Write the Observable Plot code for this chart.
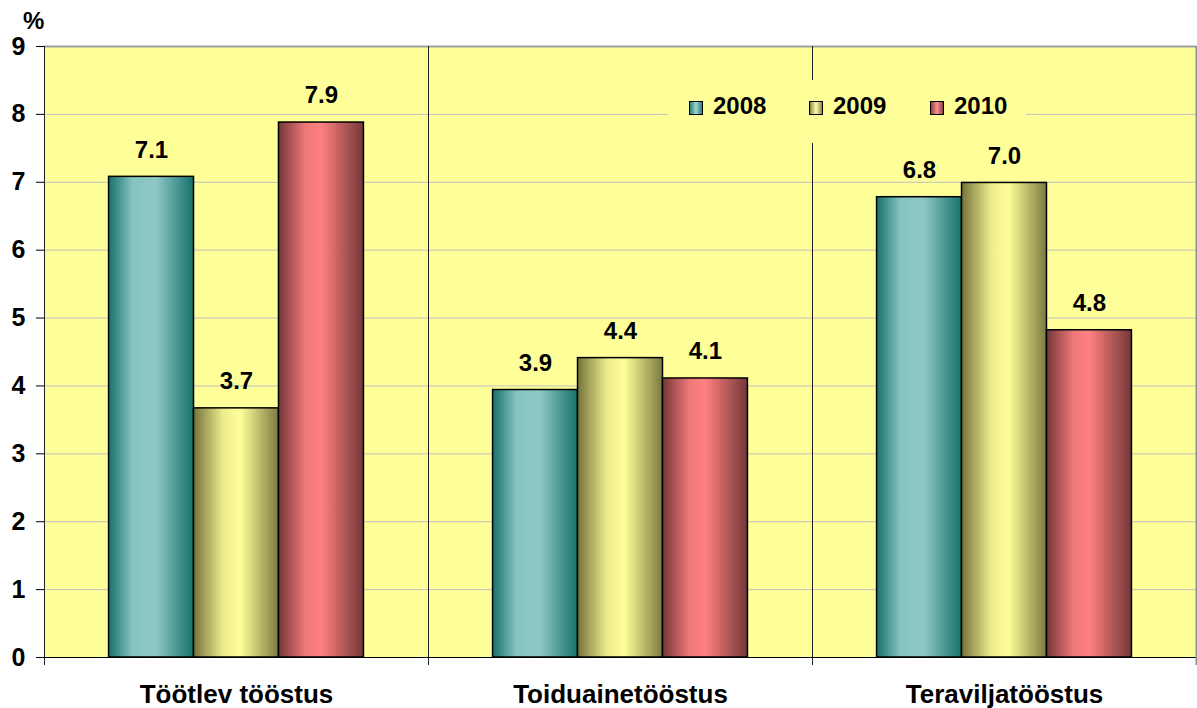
<!DOCTYPE html>
<html>
<head>
<meta charset="utf-8">
<script src="https://cdn.jsdelivr.net/npm/d3@7"></script>
<script src="https://cdn.jsdelivr.net/npm/@observablehq/plot@0.6"></script>
<style>
  html, body { margin: 0; padding: 0; background: white; }
  #wrap { position: relative; width: 1197px; height: 708px; font-family: 'Liberation Sans', Arial, sans-serif; font-weight: bold; }
  .abs { position: absolute; line-height: 1; font-size: 24px; color: black; }
  .sw { position: absolute; width: 12px; height: 12px; border: 1.5px solid black; }
  #chart g[aria-label^="fx-axis"] text { font-size: 26px !important; }
  #chart g[aria-label^="y-axis"] text { font-size: 25px !important; }
</style>
</head>
<body>
<svg width="0" height="0" style="position:absolute">
  <defs>
    <linearGradient id="g2008" x1="0" x2="1" y1="0" y2="0">
      <stop offset="0" stop-color="#16716d"/>
      <stop offset="0.28" stop-color="#86c3bf"/>
      <stop offset="0.55" stop-color="#8fc9c5"/>
      <stop offset="1" stop-color="#17716d"/>
    </linearGradient>
    <linearGradient id="g2009" x1="0" x2="1" y1="0" y2="0">
      <stop offset="0" stop-color="#74743c"/>
      <stop offset="0.35" stop-color="#eded8e"/>
      <stop offset="0.55" stop-color="#ffff99"/>
      <stop offset="1" stop-color="#7a7a42"/>
    </linearGradient>
    <linearGradient id="g2010" x1="0" x2="1" y1="0" y2="0">
      <stop offset="0" stop-color="#743838"/>
      <stop offset="0.32" stop-color="#f07878"/>
      <stop offset="0.5" stop-color="#ff8080"/>
      <stop offset="1" stop-color="#743838"/>
    </linearGradient>
  </defs>
</svg>
<div id="wrap">
  <div id="chart"></div>
  <div class="abs" style="left:23px;top:9px;">%</div>
  <div id="legend" style="position:absolute;left:668px;top:80px;width:358px;height:63px;background:#FFFF99;"></div>
</div>
<script>
// ---- data ----
const categories = ["Töötlev tööstus", "Toiduainetööstus", "Teraviljatööstus"];
const years = ["2008", "2009", "2010"];
const v2008 = [7.08, 3.94, 6.78];
const v2009 = [3.67, 4.41, 6.99];
const v2010 = [7.88, 4.11, 4.82];
const yTicks = [0, 1, 2, 3, 4, 5, 6, 7, 8, 9];

const series = {"2008": v2008, "2009": v2009, "2010": v2010};
const rows = [];
categories.forEach((c, i) => years.forEach(y => rows.push({category: c, year: y, value: series[y][i]})));

// ---- layout ----
const W = 1197, H = 708, ML = 44, MR = 1, MT = 46, MB = 51;
const pOuter = 0.76;
const facetW = (W - ML - MR) / categories.length;
const step = facetW / (years.length + 2 * pOuter);
const sepDx = -step * (0.5 + pOuter);
const fmt = d3.format(".1f");

const first = rows.filter(r => r.year === years[0]);
const last = rows.filter(r => r.year === years[years.length - 1] && r.category === categories[categories.length - 1]);

const chart = Plot.plot({
  width: W, height: H,
  marginLeft: ML, marginRight: MR, marginTop: MT, marginBottom: MB,
  style: {fontFamily: "'Liberation Sans', Arial, sans-serif", fontSize: "24px", fontWeight: "bold", color: "black", background: "white", overflow: "visible"},
  fx: {domain: categories, padding: 0, label: null, tickSize: 0, tickPadding: 27, axis: "bottom"},
  x: {domain: years, axis: null, paddingInner: 0, paddingOuter: pOuter, round: false},
  y: {domain: [0, 9], ticks: yTicks, tickSize: 8, tickPadding: 11, label: null},
  marks: [
    Plot.frame({fill: "#FFFF99"}),
    Plot.ruleY(yTicks.slice(1, -1), {stroke: "#c0c0c0", strokeWidth: 1}),
    Plot.ruleY([9], {stroke: "#a0a0a0", strokeWidth: 2}),
    ...years.map(yr => Plot.barY(rows.filter(r => r.year === yr), {
      fx: "category", x: "year", y: "value",
      fill: `url(#g${yr})`, stroke: "black", strokeWidth: 1.5
    })),
    Plot.ruleY([0], {stroke: "black", strokeWidth: 1}),
    Plot.ruleX(first, {fx: "category", x: "year", dx: sepDx, stroke: "#202020", strokeWidth: 1, insetBottom: -8}),
    Plot.ruleX(last, {fx: "category", x: "year", dx: -sepDx, stroke: "#909090", strokeWidth: 2, insetBottom: -8}),
    Plot.text(rows, {fx: "category", x: "year", y: "value", text: d => fmt(d.value), dy: -27, fill: "black"})
  ]
});
document.getElementById("chart").appendChild(chart);

// ---- legend ----
const legend = document.getElementById("legend");
const legendX = [21, 141, 262];
years.forEach((yr, i) => {
  const sw = document.createElement("div");
  sw.className = "sw";
  sw.style.left = legendX[i] + "px";
  sw.style.top = "21px";
  sw.style.background = `linear-gradient(90deg, ${yr === "2008" ? "#2a7f7b, #a0d4d0, #2a7f7b" : yr === "2009" ? "#8a8a4a, #ffffa8, #8a8a4a" : "#8a4040, #ff9090, #8a4040"})`;
  legend.appendChild(sw);
  const t = document.createElement("div");
  t.className = "abs";
  t.style.left = (legendX[i] + 24) + "px";
  t.style.top = "14px";
  t.textContent = yr;
  legend.appendChild(t);
});
</script>
</body>
</html>
